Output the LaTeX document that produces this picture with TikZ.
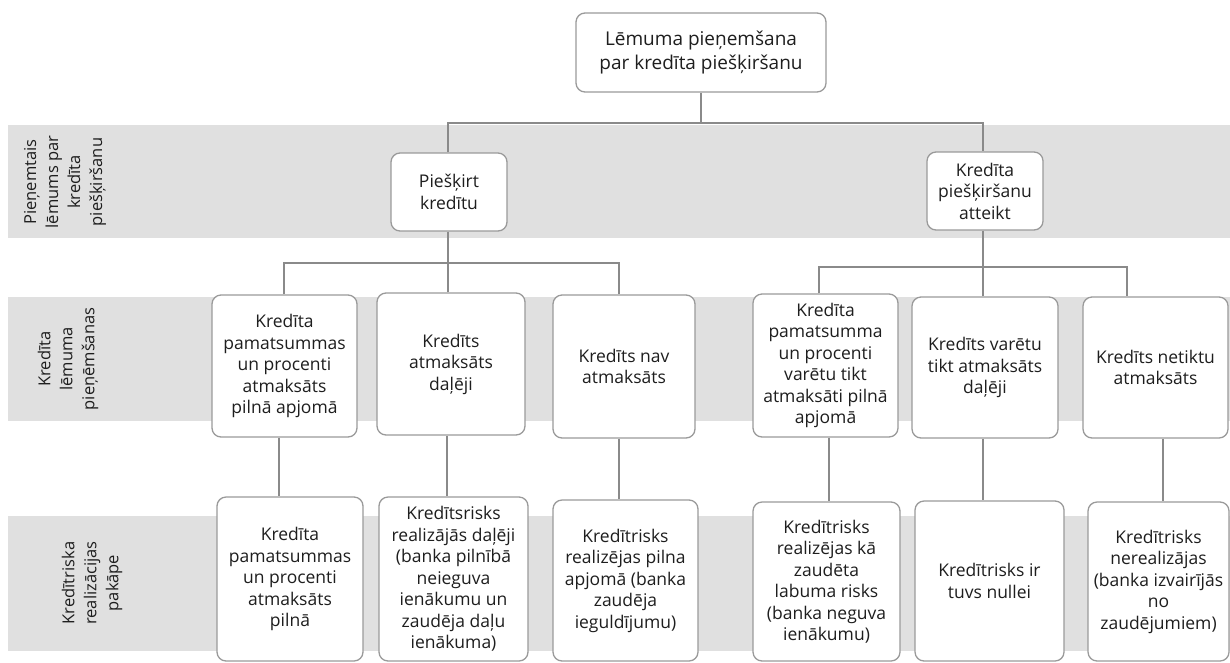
\documentclass[tikz,border=0pt]{standalone}
\usepackage{fontspec}
\setmainfont{Open Sans}
\definecolor{bandgray}{HTML}{E0E0E0}
\definecolor{boxline}{HTML}{9A9A9A}
\definecolor{linkgray}{HTML}{8A8A8A}
\definecolor{txt}{HTML}{1E1E1E}
\begin{document}
\begin{tikzpicture}[x=1pt,y=-1pt,
  box/.style={draw=boxline, line width=1.3pt, rounded corners=9pt, fill=white,
    inner sep=0pt, align=center, text=txt, font=\fontsize{17.5}{21.5}\selectfont},
  band/.style={fill=bandgray, draw=none},
  link/.style={draw=linkgray, line width=1.2pt},
  lbl/.style={rotate=90, align=center, inner sep=0pt, text=txt,
    font=\fontsize{16.5}{22}\selectfont}]
\useasboundingbox (0,0) rectangle (1230,662);

% horizontal bands for the three levels
\fill[band] (8,125) rectangle (1230,238);
\fill[band] (8,297) rectangle (1230,421);
\fill[band] (8,516) rectangle (1230,651);

% level labels
\node[lbl] (l1) at (65,182) {Pieņemtais\\lēmums par\\kredīta\\piešķiršanu};
\node[lbl] (l2) at (68,359) {Kredīta\\lēmuma\\pieņēmšanas};
\node[lbl] (l3) at (92,583) {Kredītriska\\realizācijas\\pakāpe};

% root
\node[box, minimum width=250, minimum height=79,
  font=\fontsize{19}{24.5}\selectfont] (top) at (701,52.5)
  {Lēmuma pieņemšana\\par kredīta piešķiršanu};

% decision
\node[box, minimum width=116, minimum height=78] (p1) at (449,192) {Piešķirt\\kredītu};
\node[box, minimum width=116, minimum height=78] (p2) at (985,191) {Kredīta\\piešķiršanu\\atteikt};

% outcomes
\node[box, minimum width=145, minimum height=142] (a) at (284.5,366) {Kredīta\\pamatsummas\\un procenti\\atmaksāts\\pilnā apjomā};
\node[box, minimum width=148, minimum height=142] (b) at (451,364) {Kredīts\\atmaksāts\\daļēji};
\node[box, minimum width=142, minimum height=143] (c) at (624,366.5) {Kredīts nav\\atmaksāts};
\node[box, minimum width=145, minimum height=143] (d) at (825.5,365.5) {Kredīta\\pamatsumma\\un procenti\\varētu tikt\\atmaksāti pilnā\\apjomā};
\node[box, minimum width=146, minimum height=141] (e) at (985,367.5) {Kredīts varētu\\tikt atmaksāts\\daļēji};
\node[box, minimum width=145, minimum height=141] (f) at (1155.5,367.5) {Kredīts netiktu\\atmaksāts};

% risk realisation
\node[box, minimum width=146, minimum height=164] (g) at (290,579) {Kredīta\\pamatsummas\\un procenti\\atmaksāts\\pilnā};
\node[box, minimum width=149, minimum height=164] (h) at (453.5,579) {Kredītsrisks\\realizājās daļēji\\(banka pilnībā\\neieguva\\ienākumu un\\zaudēja daļu\\ienākuma)};
\node[box, minimum width=145, minimum height=161] (i) at (625.5,580.5) {Kredītrisks\\realizējas pilna\\apjomā (banka\\zaudēja\\ieguldījumu)};
\node[box, minimum width=147, minimum height=159] (j) at (826.5,581.5) {Kredītrisks\\realizējas kā\\zaudēta\\labuma risks\\(banka neguva\\ienākumu)};
\node[box, minimum width=149, minimum height=160] (k) at (989.5,581) {Kredītrisks ir\\tuvs nullei};
\node[box, minimum width=141, minimum height=159] (l) at (1158.5,581.5) {Kredītrisks\\nerealizājas\\(banka izvairījās\\no\\zaudējumiem)};

% bus lines and column positions of the connectors
\coordinate (bus0) at (0,123);
\coordinate (bus1) at (0,263);
\coordinate (bus2) at (0,267);
\coordinate (u1) at (284,0);
\coordinate (u2) at (448,0);
\coordinate (u3) at (619,0);
\coordinate (u4) at (819,0);
\coordinate (u5) at (983,0);
\coordinate (u6) at (1127,0);
\coordinate (v1) at (279,0);
\coordinate (v2) at (447,0);
\coordinate (v3) at (619,0);
\coordinate (v4) at (829,0);
\coordinate (v5) at (983,0);
\coordinate (v6) at (1163,0);

% root to decisions
\draw[link] (top.south) -- (top.south |- bus0);
\draw[link] (p1.north -| u2) -- (u2 |- bus0) -- (u5 |- bus0) -- (p2.north -| u5);

% decisions to outcomes
\draw[link] (p1.south -| u2) -- (u2 |- bus1);
\draw[link] (a.north -| u1) -- (u1 |- bus1) -- (u3 |- bus1) -- (c.north -| u3);
\draw[link] (b.north -| u2) -- (u2 |- bus1);
\draw[link] (p2.south -| u5) -- (u5 |- bus2);
\draw[link] (d.north -| u4) -- (u4 |- bus2) -- (u6 |- bus2) -- (f.north -| u6);
\draw[link] (e.north -| u5) -- (u5 |- bus2);

% outcomes to risk realisation
\draw[link] (a.south -| v1) -- (g.north -| v1);
\draw[link] (b.south -| v2) -- (h.north -| v2);
\draw[link] (c.south -| v3) -- (i.north -| v3);
\draw[link] (d.south -| v4) -- (j.north -| v4);
\draw[link] (e.south -| v5) -- (k.north -| v5);
\draw[link] (f.south -| v6) -- (l.north -| v6);
\end{tikzpicture}
\end{document}
